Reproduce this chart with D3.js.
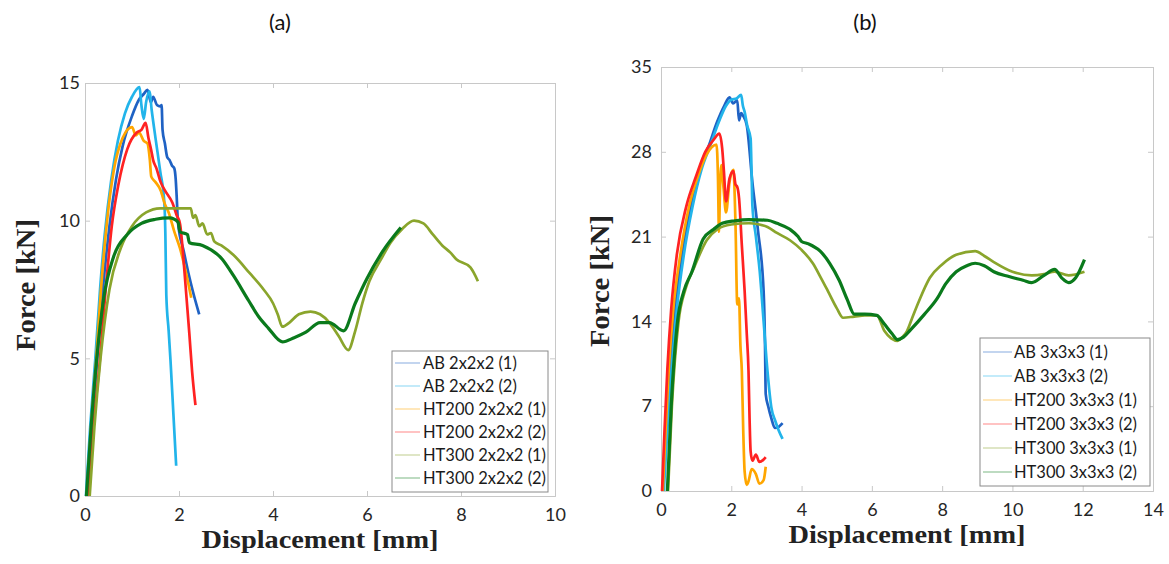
<!DOCTYPE html>
<html>
<head>
<meta charset="utf-8">
<script src="https://cdn.jsdelivr.net/npm/d3@7"></script>
<style>
  body { margin: 0; background: #fff; }
</style>
</head>
<body>
<div id="chart"></div>
<script>
// panel (a): 2x2x2 lattices, [displacement mm, force kN]
var ab1A = [[0.05,0],[0.14,2.5],[0.26,5],[0.38,7.5],[0.52,9.8],[0.66,11.5],[0.8,12.7],[1.0,13.8],[1.15,14.4],[1.25,14.6],[1.33,14.75],[1.4,14.3],[1.45,14.5],[1.53,14.2],[1.6,14.15],[1.63,14.2],[1.65,13.3],[1.7,12.8],[1.75,12.3],[1.8,12.2],[1.85,12.0],[1.9,11.9],[1.93,11.5],[1.95,10.9],[1.98,9.9],[2.1,8.9],[2.2,8.1],[2.3,7.4],[2.43,6.6]];
var ab2A = [[0.02,0],[0.11,2.5],[0.22,5],[0.32,7.5],[0.42,9.5],[0.56,11.5],[0.7,12.9],[0.85,13.9],[1.0,14.5],[1.16,14.85],[1.2,14.2],[1.25,13.7],[1.3,14.3],[1.37,14.7],[1.42,14.0],[1.5,13.0],[1.6,11.8],[1.69,10.6],[1.71,9.5],[1.73,7.3],[1.78,6.0],[1.82,4.9],[1.88,3.0],[1.94,1.1]];
var ht200_1A = [[0.04,0],[0.13,2.5],[0.24,5],[0.34,7.5],[0.47,10],[0.61,11.8],[0.8,13],[1.0,13.4],[1.08,13.1],[1.15,13.2],[1.25,12.9],[1.33,12.8],[1.38,12.2],[1.41,11.6],[1.5,11.4],[1.61,11.1],[1.7,10.6],[1.78,10.3],[1.9,9.6],[2.02,9.0],[2.15,8.1],[2.26,7.2]];
var ht200_2A = [[0.07,0],[0.18,2.5],[0.32,5],[0.44,7.5],[0.57,9.8],[0.71,11.3],[0.9,12.6],[1.1,13.2],[1.2,13.3],[1.29,13.55],[1.35,13.0],[1.41,12.55],[1.45,12.2],[1.52,11.9],[1.61,11.4],[1.7,11.1],[1.86,10.65],[1.95,10.2],[2.02,9.9],[2.1,8.5],[2.16,7.2],[2.22,5.9],[2.28,4.5],[2.35,3.3]];
var ht300_1A = [[0.1,0],[0.2,2.5],[0.33,5],[0.52,7.5],[0.76,9],[1.0,9.8],[1.3,10.3],[1.6,10.45],[2.25,10.45],[2.3,10.1],[2.35,10.2],[2.43,9.8],[2.5,9.9],[2.6,9.5],[2.68,9.55],[2.75,9.25],[2.9,9.1],[3.16,8.75],[3.5,8.1],[3.8,7.5],[4.0,7.0],[4.1,6.6],[4.2,6.15],[4.35,6.3],[4.55,6.6],[4.8,6.7],[5.0,6.6],[5.2,6.3],[5.4,5.8],[5.6,5.3],[5.75,6.0],[5.9,7.0],[6.05,7.8],[6.3,8.6],[6.5,9.2],[6.75,9.7],[7.0,10.0],[7.2,9.9],[7.4,9.5],[7.6,9.1],[7.77,8.85],[7.9,8.6],[8.2,8.3],[8.36,7.8]];
var ht300_2A = [[0.03,0],[0.13,2.5],[0.25,5],[0.4,7.2],[0.61,8.7],[0.9,9.5],[1.2,9.9],[1.5,10.05],[1.8,10.1],[1.98,9.95],[2.02,9.6],[2.18,9.5],[2.22,9.2],[2.5,9.1],[2.92,8.6],[3.16,8.0],[3.48,7.1],[3.7,6.5],[3.9,6.1],[4.2,5.6],[4.45,5.75],[4.7,5.95],[5.0,6.3],[5.2,6.3],[5.5,6.0],[5.75,7.0],[6.0,7.9],[6.34,8.9],[6.72,9.75]];

// panel (b): 3x3x3 lattices
var ab1B = [[0.05,0],[0.15,5],[0.25,10],[0.4,15],[0.6,19.5],[0.85,23.5],[1.1,26.5],[1.36,28.5],[1.6,30.5],[1.8,31.8],[1.95,32.5],[2.05,32.0],[2.17,32.25],[2.22,30.6],[2.28,31.2],[2.33,31.0],[2.44,30.2],[2.6,25.5],[2.76,21.5],[2.92,16.5],[2.96,12],[2.98,8],[3.05,7],[3.14,6.0],[3.24,5.2],[3.35,5.3],[3.46,5.6]];
var ab2B = [[0.08,0],[0.18,5],[0.3,10],[0.45,15],[0.65,19.5],[0.9,23.5],[1.15,26.5],[1.4,28.5],[1.65,30.5],[1.85,31.8],[2.0,32.3],[2.15,32.4],[2.28,32.7],[2.33,31.8],[2.38,31.3],[2.45,30.2],[2.55,29.1],[2.58,26],[2.6,23.6],[2.7,21],[2.81,18.1],[2.92,14],[3.03,9.9],[3.14,6.9],[3.25,5.8],[3.35,5.0],[3.46,4.3]];
var ht200_1B = [[0.05,0],[0.13,5],[0.22,10],[0.35,15],[0.55,19.5],[0.8,23.5],[1.05,26],[1.3,27.8],[1.58,28.6],[1.62,26],[1.65,21.4],[1.68,25],[1.72,26.9],[1.78,25],[1.85,23],[1.95,25.5],[2.06,26.5],[2.12,22],[2.17,15.4],[2.22,15.9],[2.26,12],[2.3,9.9],[2.34,5],[2.38,1.6],[2.44,0.5],[2.49,0.8],[2.58,1.8],[2.7,1.4],[2.8,0.6],[2.92,0.9],[2.98,2.0]];
var ht200_2B = [[0.03,0],[0.1,5],[0.18,10],[0.29,15],[0.45,19.5],[0.72,23.5],[1.0,26],[1.26,28],[1.5,29],[1.66,29.5],[1.74,28.3],[1.79,26.4],[1.85,23.9],[1.95,25.8],[2.06,26.4],[2.12,25.3],[2.17,25.1],[2.22,24.2],[2.3,20.3],[2.38,16.5],[2.44,13],[2.49,9.9],[2.52,6],[2.55,3.3],[2.6,2.5],[2.7,3.0],[2.8,2.4],[2.92,2.6],[2.98,2.8]];
var ht300_1B = [[0.2,0],[0.31,7],[0.5,14],[0.7,16.7],[0.95,18.5],[1.3,20.7],[1.6,21.6],[2.0,22.0],[2.5,22.1],[2.8,22.0],[3.03,21.8],[3.3,21.3],[3.67,20.7],[4.0,19.9],[4.32,18.8],[4.55,17.6],[4.75,16.5],[5.0,15.1],[5.18,14.3],[5.5,14.4],[5.8,14.5],[6.14,14.5],[6.36,13.2],[6.55,12.6],[6.73,12.4],[6.9,12.8],[7.0,13.2],[7.15,14.3],[7.33,15.6],[7.65,17.6],[8.0,18.7],[8.4,19.5],[8.94,19.8],[9.2,19.4],[9.47,18.9],[10.0,18.1],[10.55,17.8],[10.9,17.9],[11.2,18.1],[11.6,17.8],[12.05,18.1]];
var ht300_2B = [[0.18,0],[0.29,7],[0.47,14],[0.65,16.5],[0.88,18.1],[1.2,20.8],[1.5,21.6],[1.74,22.1],[2.1,22.3],[2.49,22.4],[3.03,22.35],[3.3,22.1],[3.67,21.6],[3.9,21.0],[4.0,20.6],[4.2,20.4],[4.53,19.8],[4.8,18.8],[5.07,17.4],[5.3,15.8],[5.5,14.6],[5.8,14.6],[6.14,14.5],[6.35,13.8],[6.57,13.0],[6.73,12.5],[6.9,12.7],[7.1,13.3],[7.5,14.6],[7.86,15.9],[8.1,17.1],[8.4,18.1],[8.7,18.6],[8.94,18.8],[9.2,18.6],[9.47,18.1],[9.9,17.7],[10.3,17.4],[10.55,17.2],[10.9,17.8],[11.2,18.3],[11.4,17.6],[11.6,17.2],[11.8,17.6],[12.05,19.1]];

var labelsA = ["AB 2x2x2 (1)", "AB 2x2x2 (2)", "HT200 2x2x2 (1)", "HT200 2x2x2 (2)", "HT300 2x2x2 (1)", "HT300 2x2x2 (2)"];
var labelsB = ["AB 3x3x3 (1)", "AB 3x3x3 (2)", "HT200 3x3x3 (1)", "HT200 3x3x3 (2)", "HT300 3x3x3 (1)", "HT300 3x3x3 (2)"];
var colors = ["#1f62c4", "#22b4ea", "#ffa600", "#ff2222", "#8aa52c", "#0a7a1c"];
var xTicksA = [0, 2, 4, 6, 8, 10];
var yTicksA = [0, 5, 10, 15];
var xTicksB = [0, 2, 4, 6, 8, 10, 12, 14];
var yTicksB = [0, 7, 14, 21, 28, 35];

var svg = d3.select("#chart").append("svg")
    .attr("width", 1169)
    .attr("height", 564);

var sans = "Lato, 'Open Sans', sans-serif";
var serif = "'Liberation Serif', serif";

function drawPanel(opts) {
    var x = d3.scaleLinear().domain(opts.xDomain).range(opts.xRange);
    var y = d3.scaleLinear().domain(opts.yDomain).range(opts.yRange);
    var g = svg.append("g");

    // frame with inward ticks on all sides
    var frameColor = "#c8c8c8";
    function style(ax) {
        ax.select(".domain").attr("stroke", frameColor);
        ax.selectAll("line").attr("stroke", frameColor);
    }
    g.append("g").attr("transform", `translate(0, ${opts.yRange[0]})`)
        .call(d3.axisBottom(x).tickValues(opts.xTicks).tickSize(-5).tickPadding(12))
        .call(style);
    g.append("g").attr("transform", `translate(0, ${opts.yRange[1]})`)
        .call(d3.axisTop(x).tickValues(opts.xTicks).tickSize(-5).tickFormat(""))
        .call(style);
    g.append("g").attr("transform", `translate(${opts.xRange[0]}, 0)`)
        .call(d3.axisLeft(y).tickValues(opts.yTicks).tickSize(-5).tickPadding(opts.yPad))
        .call(style);
    g.append("g").attr("transform", `translate(${opts.xRange[1]}, 0)`)
        .call(d3.axisRight(y).tickValues(opts.yTicks).tickSize(-5).tickFormat(""))
        .call(style);
    g.selectAll(".tick text")
        .style("font-family", sans)
        .style("font-size", "18px")
        .attr("fill", "#262626");

    var line = d3.line()
        .x(d => x(d[0]))
        .y(d => y(d[1]))
        .curve(d3.curveMonotoneX);

    opts.series.forEach(function (s, i) {
        g.append("path")
            .datum(s)
            .attr("fill", "none")
            .attr("stroke", colors[i])
            .attr("stroke-width", i == 5 ? 3.2 : 2.7)
            .attr("stroke-linejoin", "round")
            .attr("d", line);
    });

    // legend
    var L = opts.legend;
    var lg = g.append("g").attr("transform", `translate(${L.x}, ${L.y})`);
    lg.append("rect")
        .attr("width", L.w)
        .attr("height", L.h)
        .attr("fill", "#fff")
        .attr("stroke", "#8a8a8a")
        .attr("stroke-width", 1);
    lg.selectAll("line.key").data(opts.labels)
        .enter()
        .append("line")
        .attr("x1", L.keyX[0]).attr("x2", L.keyX[1])
        .attr("y1", (d, i) => L.first + i * L.step)
        .attr("y2", (d, i) => L.first + i * L.step)
        .attr("stroke", (d, i) => colors[i])
        .attr("stroke-opacity", 0.45)
        .attr("stroke-width", 1.2);
    lg.selectAll("text").data(opts.labels)
        .enter()
        .append("text")
        .text(d => d)
        .attr("x", L.textX)
        .attr("y", (d, i) => L.first + 6 + i * L.step)
        .style("font-family", sans)
        .style("font-size", "16.5px")
        .attr("fill", "#1a1a1a");

    // titles
    var midX = (opts.xRange[0] + opts.xRange[1]) / 2;
    g.append("text")
        .text(opts.title)
        .attr("x", opts.titleX)
        .attr("y", 30)
        .attr("text-anchor", "middle")
        .style("font-family", sans)
        .style("font-size", "22px")
        .attr("fill", "#111");
    g.append("text")
        .text("Displacement [mm]")
        .attr("x", midX)
        .attr("y", opts.yRange[0] + 52)
        .attr("text-anchor", "middle")
        .attr("textLength", 237)
        .attr("lengthAdjust", "spacingAndGlyphs")
        .style("font-family", serif)
        .style("font-weight", "bold")
        .style("font-size", "25px")
        .attr("fill", "#222");
    g.append("text")
        .text("Force [kN]")
        .attr("transform", `translate(${opts.forceX}, ${opts.forceY}) rotate(-90)`)
        .attr("text-anchor", "middle")
        .attr("textLength", 132)
        .attr("lengthAdjust", "spacingAndGlyphs")
        .style("font-family", serif)
        .style("font-weight", "bold")
        .style("font-size", "27px")
        .attr("fill", "#222");
}

drawPanel({
    xDomain: [0, 10], xRange: [85, 555],
    yDomain: [0, 15], yRange: [496, 83],
    xTicks: xTicksA, yTicks: yTicksA, yPad: 5,
    series: [ab1A, ab2A, ht200_1A, ht200_2A, ht300_1A, ht300_2A],
    labels: labelsA,
    legend: { x: 392, y: 351, w: 156, h: 141, first: 12, step: 23, keyX: [3, 28], textX: 31 },
    title: "(a)", titleX: 280, forceX: 35, forceY: 285
});

drawPanel({
    xDomain: [0, 14], xRange: [661, 1153],
    yDomain: [0, 35], yRange: [491, 67],
    xTicks: xTicksB, yTicks: yTicksB, yPad: 9,
    series: [ab1B, ab2B, ht200_1B, ht200_2B, ht300_1B, ht300_2B],
    labels: labelsB,
    legend: { x: 980, y: 338, w: 170, h: 148, first: 14, step: 24, keyX: [3, 32], textX: 34 },
    title: "(b)", titleX: 865, forceX: 609, forceY: 281
});
</script>
</body>
</html>
